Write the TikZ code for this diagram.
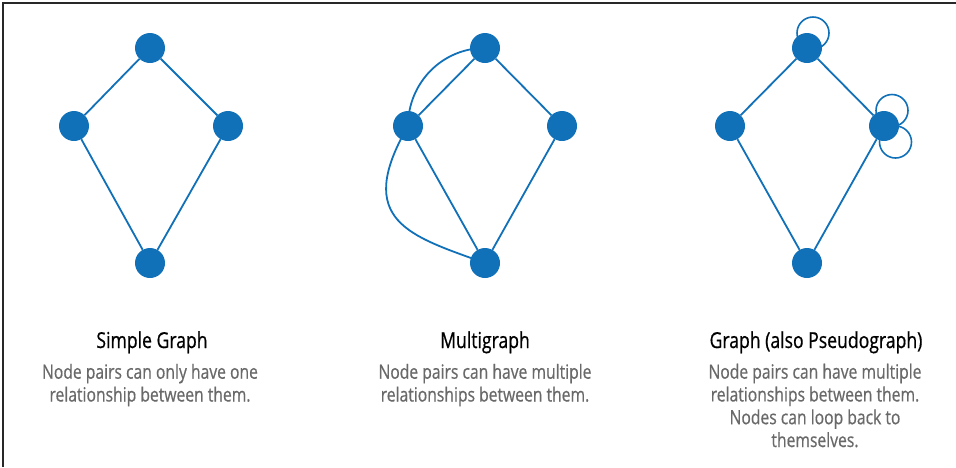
\documentclass[tikz,border=0pt]{standalone}
\usepackage{fontspec}
\setmainfont{Open Sans}[FakeStretch=0.8]
\newfontfamily\capfont{Open Sans}[FakeStretch=0.8,FakeBold=0.6]
\usetikzlibrary{backgrounds}
\definecolor{gblue}{RGB}{16,112,184}
\definecolor{dgray}{RGB}{105,105,105}
\definecolor{frame}{RGB}{40,40,40}
\tikzset{
  vert/.style={circle,fill=gblue,inner sep=0pt,minimum size=30pt},
  edge/.style={draw=gblue,line width=1.8pt},
  loopc/.style={draw=gblue,line width=1.6pt},
  ttl/.style={anchor=base,text=black,font=\capfont\fontsize{22}{26}\selectfont},
  dsc/.style={anchor=base,text=dgray,align=center,font=\capfont\fontsize{19.6}{22.8}\selectfont}
}
\begin{document}
\begin{tikzpicture}[x=1pt,y=-1pt]
\useasboundingbox (0,0) rectangle (956,467);
\draw[frame,line width=2pt] (956,3) -- (3,3) -- (3,467);
% Simple graph
\node[vert] (a1) at (150,48) {};
\node[vert] (b1) at (74,126) {};
\node[vert] (c1) at (228,126) {};
\node[vert] (d1) at (150,263) {};
\draw[edge] (a1) -- (b1) (a1) -- (c1) (b1) -- (d1) (c1) -- (d1);
% Multigraph
\node[vert] (a2) at (485,48) {};
\node[vert] (b2) at (408,126) {};
\node[vert] (c2) at (562,126) {};
\node[vert] (d2) at (485,263) {};
\draw[edge] (a2) -- (b2) (a2) -- (c2) (b2) -- (d2) (c2) -- (d2);
\begin{scope}[on background layer]
\draw[edge] (a2.center) to[out=180,in=90] (b2.center);
\draw[edge] (b2.center) .. controls +(-55,95) and +(-75,-27) .. (d2.center);
\end{scope}
% Pseudograph
\node[vert] (a3) at (807,48) {};
\node[vert] (b3) at (730,126) {};
\node[vert] (c3) at (884,126) {};
\node[vert] (d3) at (807,263) {};
\draw[edge] (a3) -- (b3) (a3) -- (c3) (b3) -- (d3) (c3) -- (d3);
\begin{scope}[on background layer]
\draw[loopc] ([shift={(6,-15)}]a3.center) circle (16);
\draw[loopc] ([shift={(8,-15.5)}]c3.center) circle (16);
\draw[loopc] ([shift={(11.5,16)}]c3.center) circle (16);
\end{scope}
% Texts
\node[ttl] (t1) at (152,348) {Simple Graph};
\node[dsc] (s1) at (150,401.5) {Node pairs can only have one\\relationship between them.};
\node[ttl] (t2) at (485,348) {Multigraph};
\node[dsc] (s2) at (485,401.5) {Node pairs can have multiple\\relationships between them.};
\node[ttl] (t3) at (816,348) {Graph (also Pseudograph)};
\node[dsc] (s3) at (815,447) {Node pairs can have multiple\\relationships between them.\\Nodes can loop back to\\themselves.};
\end{tikzpicture}
\end{document}
